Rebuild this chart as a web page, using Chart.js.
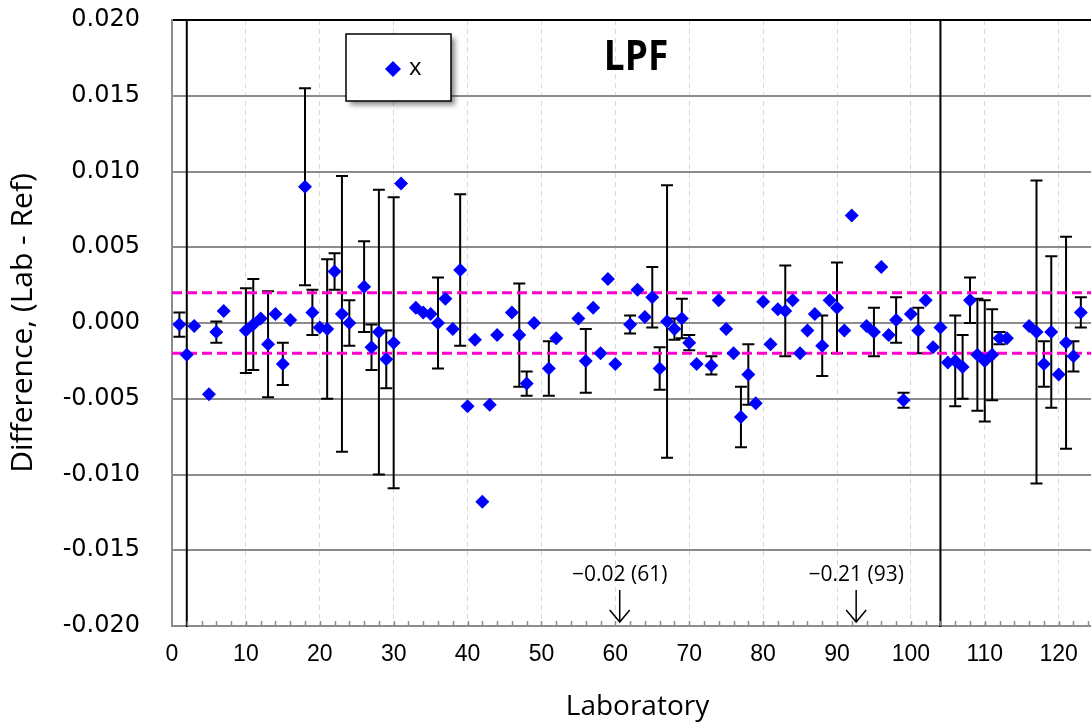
<!DOCTYPE html>
<html>
<head>
<meta charset="utf-8">
<script src="https://cdn.jsdelivr.net/npm/chart.js@4.4.0/dist/chart.umd.min.js"></script>
<style>
  html, body { margin: 0; padding: 0; overflow: hidden; background: #fff; }
</style>
</head>
<body>
<div style="width:1110px;height:725px">
  <canvas id="chart" width="1110" height="725"></canvas>
</div>
<script>
// laboratory numbers, difference (Lab - Ref) and its uncertainty (0 = none shown)
const labs = [1, 2, 3, 5, 6, 7, 10, 11, 12, 13, 14, 15, 16, 18, 19, 20, 21, 22, 23, 24,
  26, 27, 28, 29, 30, 31, 33, 34, 35, 36, 37, 38, 39, 40, 41, 42, 43, 44, 46, 47,
  48, 49, 51, 52, 55, 56, 57, 58, 59, 60, 62, 63, 64, 65, 66, 67, 68, 69, 70, 71,
  73, 74, 75, 76, 77, 78, 79, 80, 81, 82, 83, 84, 85, 86, 87, 88, 89, 90, 91, 92,
  94, 95, 96, 97, 98, 99, 100, 101, 102, 103, 104, 105, 106, 107, 108, 109, 110, 111, 112, 113,
  116, 117, 118, 119, 120, 121, 122, 123];
const diffs = [-0.0001, -0.0021, -0.0002, -0.0047, -0.0006, 0.0008, -0.0005, -0.0001, 0.0003, -0.0014,
  0.0006, -0.0027, 0.0002, 0.0090, 0.0007, -0.0003, -0.0004, 0.0034, 0.0006, 0.0000,
  0.0024, -0.0016, -0.0006, -0.0024, -0.0013, 0.0092, 0.0010, 0.0007, 0.0006, 0.0000,
  0.0016, -0.0004, 0.0035, -0.0055, -0.0011, -0.0118, -0.0054, -0.0008, 0.0007, -0.0008,
  -0.0040, 0.0000, -0.0030, -0.0010, 0.0003, -0.0025, 0.0010, -0.0020, 0.0029, -0.0027,
  -0.0001, 0.0022, 0.0004, 0.0017, -0.0030, 0.0001, -0.0004, 0.0003, -0.0013, -0.0027,
  -0.0028, 0.0015, -0.0004, -0.0020, -0.0062, -0.0034, -0.0053, 0.0014, -0.0014, 0.0009,
  0.0008, 0.0015, -0.0020, -0.0005, 0.0006, -0.0015, 0.0015, 0.0010, -0.0005, 0.0071,
  -0.0002, -0.0006, 0.0037, -0.0008, 0.0002, -0.0051, 0.0006, -0.0005, 0.0015, -0.0016,
  -0.0003, -0.0026, -0.0025, -0.0029, 0.0015, -0.0021, -0.0025, -0.0021, -0.0010, -0.0010,
  -0.0002, -0.0006, -0.0027, -0.0006, -0.0034, -0.0013, -0.0022, 0.0007];
const uncs = [0.0008, 0.0221, 0, 0, 0.0007, 0, 0.0028, 0.0030, 0, 0.0035,
  0, 0.0014, 0, 0.0065, 0.0015, 0, 0.0046, 0.0012, 0.0091, 0.0015,
  0.0030, 0.0015, 0.0094, 0.0019, 0.0096, 0, 0, 0, 0, 0.0030,
  0, 0, 0.0050, 0, 0, 0, 0, 0, 0, 0.0034,
  0.0008, 0, 0.0018, 0, 0, 0.0021, 0, 0, 0, 0,
  0.0006, 0, 0, 0.0020, 0.0014, 0.0090, 0.0007, 0.0013, 0.0005, 0,
  0.0006, 0, 0, 0, 0.0020, 0.0020, 0, 0, 0, 0,
  0.0030, 0, 0, 0, 0, 0.0020, 0, 0.0030, 0, 0,
  0, 0.0016, 0, 0, 0.0015, 0.0005, 0, 0.0015, 0, 0,
  0.0300, 0, 0.0030, 0.0021, 0.0015, 0.0037, 0.0040, 0.0030, 0.0004, 0,
  0, 0.0100, 0.0015, 0.0050, 0, 0.0070, 0.0010, 0.0010];

const limitLines = [0.002, -0.002];
const offScaleLabs = [61, 93];
const offScaleText = ['\u22120.02 (61)', '\u22120.21 (93)'];

const xMin = 0, xMax = 126;
const yMin = -0.02, yMax = 0.02;

const points = labs.map((lab, i) => ({ x: lab, y: diffs[i] }));

// error bars behind the diamonds
const errorBars = {
  id: 'errorBars',
  beforeDatasetsDraw(chart) {
    const { ctx, chartArea, scales: { x, y } } = chart;
    ctx.save();
    ctx.beginPath();
    ctx.rect(chartArea.left, chartArea.top - 1, chartArea.right - chartArea.left, chartArea.bottom - chartArea.top + 2);
    ctx.clip();
    ctx.strokeStyle = '#000';
    ctx.lineWidth = 2;
    labs.forEach((lab, i) => {
      const u = uncs[i];
      if (!u) return;
      const px = x.getPixelForValue(lab);
      const top = y.getPixelForValue(diffs[i] + u);
      const bot = y.getPixelForValue(diffs[i] - u);
      ctx.beginPath();
      ctx.moveTo(px, top); ctx.lineTo(px, bot);
      ctx.moveTo(px - 6, top); ctx.lineTo(px + 6, top);
      ctx.moveTo(px - 6, bot); ctx.lineTo(px + 6, bot);
      ctx.stroke();
    });
    ctx.restore();
  }
};

// minor ticks, legend box, title and off-scale arrows
const extras = {
  id: 'extras',
  afterDraw(chart) {
    const { ctx, chartArea, scales: { x, y } } = chart;
    ctx.save();

    // minor ticks on x axis
    ctx.strokeStyle = '#8c8c8c';
    ctx.lineWidth = 1.5;
    for (let v = 2; v < xMax; v += 2) {
      const px = Math.round(x.getPixelForValue(v)) + 0.5;
      ctx.beginPath();
      ctx.moveTo(px, chartArea.bottom);
      ctx.lineTo(px, chartArea.bottom - 5);
      ctx.stroke();
    }

    // legend
    ctx.save();
    ctx.shadowColor = 'rgba(0,0,0,0.45)';
    ctx.shadowBlur = 5;
    ctx.shadowOffsetX = 4;
    ctx.shadowOffsetY = 4;
    ctx.fillStyle = '#fff';
    ctx.fillRect(346, 34, 105, 67);
    ctx.restore();
    ctx.strokeStyle = '#000';
    ctx.lineWidth = 1.5;
    ctx.strokeRect(346, 34, 105, 67);
    ctx.fillStyle = '#0000ff';
    ctx.beginPath();
    ctx.moveTo(393, 61); ctx.lineTo(401, 69); ctx.lineTo(393, 77); ctx.lineTo(385, 69);
    ctx.closePath();
    ctx.fill();
    ctx.fillStyle = '#000';
    ctx.font = '24px "Open Sans"';
    ctx.textAlign = 'left';
    ctx.textBaseline = 'middle';
    ctx.fillText('x', 409, 68);

    // title
    ctx.save();
    ctx.translate(636, 58);
    ctx.scale(0.88, 1);
    ctx.font = 'bold 42px "Open Sans"';
    ctx.textAlign = 'center';
    ctx.textBaseline = 'middle';
    ctx.fillText('LPF', 0, 0);
    ctx.restore();

    // off-scale values
    ctx.font = '21px "Open Sans"';
    ctx.textAlign = 'center';
    ctx.textBaseline = 'middle';
    ctx.strokeStyle = '#000';
    ctx.lineWidth = 1.5;
    offScaleLabs.forEach((lab, i) => {
      const px = x.getPixelForValue(lab) - 3;
      ctx.fillText(offScaleText[i], px, 575);
      ctx.beginPath();
      ctx.moveTo(px, 590); ctx.lineTo(px, 622);
      ctx.moveTo(px - 10, 610); ctx.lineTo(px, 622); ctx.lineTo(px + 10, 610);
      ctx.stroke();
    });

    ctx.restore();
  }
};

new Chart(document.getElementById('chart'), {
  type: 'scatter',
  data: {
    datasets: [
      {
        label: 'x',
        data: points,
        pointStyle: 'rectRot',
        pointRadius: 7,
        pointHoverRadius: 7,
        backgroundColor: '#0000ff',
        borderWidth: 0,
        order: 0
      },
      ...limitLines.map(v => ({
        label: 'limit',
        data: [{ x: xMin, y: v }, { x: xMax, y: v }],
        showLine: true,
        borderColor: '#ff00cc',
        borderWidth: 3,
        borderDash: [10, 5],
        pointRadius: 0,
        order: 1
      }))
    ]
  },
  options: {
    responsive: false,
    animation: false,
    layout: { padding: { top: 20, left: 0, right: 0, bottom: 0 } },
    plugins: {
      legend: { display: false },
      tooltip: { enabled: false }
    },
    scales: {
      x: {
        type: 'linear',
        min: xMin,
        max: xMax,
        afterFit: scale => {
          scale.height = 99;
          scale.paddingLeft = 0;
          scale.paddingRight = 0;
        },
        ticks: {
          stepSize: 10,
          includeBounds: false,
          padding: 15,
          color: '#000',
          font: { family: '"Liberation Sans", Arial', size: 23 }
        },
        grid: { color: '#d9d9d9', lineWidth: 1, drawTicks: false },
        border: { color: '#8c8c8c', width: 2, dash: [5, 4] },
        title: {
          display: true,
          text: 'Laboratory',
          color: '#000',
          font: { family: '"Open Sans"', size: 28 },
          padding: { top: 0, bottom: 1 }
        }
      },
      y: {
        min: yMin,
        max: yMax,
        afterFit: scale => {
          scale.width = 172;
          scale.paddingTop = 0;
          scale.paddingBottom = 0;
        },
        ticks: {
          stepSize: 0.005,
          padding: 32,
          color: '#000',
          font: { family: '"DejaVu Sans"', size: 24 },
          callback: v => v.toFixed(3)
        },
        grid: {
          color: c => (c.tick && Math.abs(c.tick.value - yMax) < 1e-9) ? '#000' : '#8c8c8c',
          lineWidth: 2,
          drawTicks: false
        },
        border: { color: '#8c8c8c', width: 2 },
        title: {
          display: true,
          text: 'Difference, (Lab - Ref)',
          color: '#000',
          font: { family: '"Open Sans"', size: 30 },
          padding: { top: 5, bottom: 0 }
        }
      }
    }
  },
  plugins: [errorBars, extras]
});
</script>
</body>
</html>
